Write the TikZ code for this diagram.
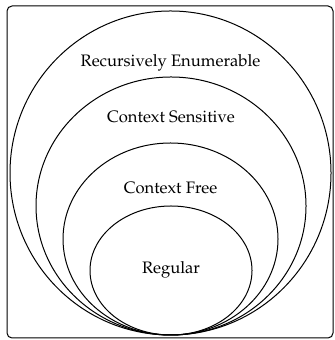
\documentclass[tikz,border=0pt]{standalone}
\usepackage[T1]{fontenc}
\IfFileExists{mathpazo.sty}{\usepackage{mathpazo}}{%
  \IfFileExists{palatino.sty}{\usepackage{palatino}}{}}
\tikzset{
  chomsky diagram/.style={
    x=0.5pt, y=0.5pt, line width=0.5pt,
    every node/.style={font=\fontsize{8.3}{10}\selectfont,
      text=black, inner sep=0pt, outer sep=0pt}
  },
  chomsky frame/.style={draw=black, rounded corners=2.5pt},
  chomsky set/.style={draw=black}
}
% name, centre x, x radius, y radius, label y, label
\newcommand{\ChomskyLevel}[6]{%
  \draw[chomsky set] (#2,5+#4) ellipse[x radius=#3, y radius=#4];
  \node (#1) at (#2,#5) {#6};
}

\begin{document}
\begin{tikzpicture}[chomsky diagram]
  \useasboundingbox (0,0) rectangle (334,340);
  \draw[chomsky frame] (7,2) rectangle (333,334);
  \ChomskyLevel{recenum}{170.5}{160.5}{162}{277}{Recursively Enumerable}
  \ChomskyLevel{ctxsens}{171}{135}{129}{223}{Context Sensitive}
  \ChomskyLevel{ctxfree}{170.5}{107.5}{96}{152}{Context Free}
  \ChomskyLevel{regular}{171}{81}{64.5}{70}{Regular}
\end{tikzpicture}
\end{document}
